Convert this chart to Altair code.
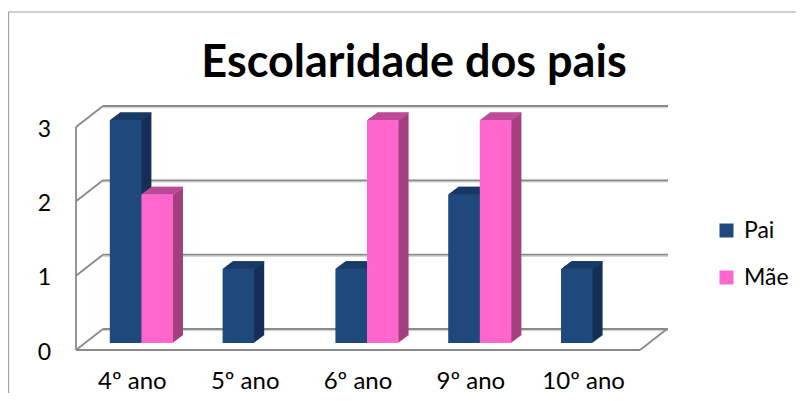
import altair as alt
import pandas as pd

# ---- data ----
categories = ["4º ano", "5º ano", "6º ano", "9º ano", "10º ano"]
series = ["Pai", "Mãe"]
pai = [3, 1, 1, 2, 1]
mae = [2, 0, 3, 3, 0]
y_ticks = [0, 1, 2, 3]
title_text = "Escolaridade dos pais"

# ---- styles ----
front_c = ["#1F497D", "#FF66CC"]
top_c = ["#1B3E6B", "#C44FA0"]
side_c = ["#152F55", "#A3407F"]
grid_c = "#8A8A8A"
FONT = "Lato"

rows = []
for c, p, m in zip(categories, pai, mae):
    rows.append({"cat": c, "serie": "Pai", "v": p})
    rows.append({"cat": c, "serie": "Mãe", "v": m})
df = pd.DataFrame(rows)
ticks_df = pd.DataFrame({"t": y_ticks})
cats_df = pd.DataFrame({"cat": categories})
title_df = pd.DataFrame({"t": [title_text]})

W, H = 564, 223
PAD_IN = 0.44
step = W / len(categories)
bw = step * (1 - PAD_IN)          # group width in px
half = bw / 2

x_scale = alt.Scale(domain=categories, paddingInner=PAD_IN, paddingOuter=PAD_IN / 2)
y_scale = alt.Scale(domain=[0, 3], nice=False, zero=True)

X = alt.X("cat:N", scale=x_scale, sort=categories, axis=None)
Y = alt.Y("v:Q", scale=y_scale, axis=None)

layers = []

# outer border
layers.append(alt.Chart(title_df).mark_rule(color="#A0A0A0", strokeWidth=1.2).encode(
    x=alt.value(-77), x2=alt.value(719), y=alt.value(-108)))
layers.append(alt.Chart(title_df).mark_rule(color="#A0A0A0", strokeWidth=1.2).encode(
    x=alt.value(-76.5), y=alt.value(-108), y2=alt.value(290)))

# back wall gridlines (shadow + line)
layers.append(alt.Chart(ticks_df).mark_rule(color="#D6D6D6", strokeWidth=1.5, yOffset=-12.5).encode(
    y=alt.Y("t:Q", scale=y_scale, axis=None), x=alt.value(18), x2=alt.value(583)))
layers.append(alt.Chart(ticks_df).mark_rule(color=grid_c, strokeWidth=1.8, yOffset=-14).encode(
    y=alt.Y("t:Q", scale=y_scale, axis=None), x=alt.value(18), x2=alt.value(583)))
# left wall diagonals
layers.append(alt.Chart(ticks_df).mark_rule(color=grid_c, strokeWidth=1.8, yOffset=7, y2Offset=-14).encode(
    y=alt.Y("t:Q", scale=y_scale, axis=None), y2=alt.Y2("t:Q"), x=alt.value(-9), x2=alt.value(18)))
# front vertical axis
layers.append(alt.Chart(ticks_df).mark_rule(color=grid_c, strokeWidth=1.8, yOffset=7, y2Offset=7).encode(
    y=alt.Y("min(t):Q", scale=y_scale, axis=None), y2=alt.Y2("max(t)"), x=alt.value(-9)))
# floor front edge and right edge
layers.append(alt.Chart(ticks_df).mark_rule(color=grid_c, strokeWidth=1.8, yOffset=7).encode(
    y=alt.Y("min(t):Q", scale=y_scale, axis=None), x=alt.value(-9), x2=alt.value(555)))
layers.append(alt.Chart(ticks_df).mark_rule(color=grid_c, strokeWidth=1.8, yOffset=7, y2Offset=-14).encode(
    y=alt.Y("min(t):Q", scale=y_scale, axis=None), y2=alt.Y2("min(t)"), x=alt.value(555), x2=alt.value(582)))

# bars, one series at a time: extrusion (side + top) then front face
N = 10
DX, DY = 10.0, -7.5
for i, s in enumerate(series):
    sdf = df[(df.serie == s) & (df.v > 0)]
    shift = -half / 2 if i == 0 else half / 2
    bar_w = alt.RelativeBandSize(0.5)
    for k in range(N, 0, -1):
        dx = DX * k / N
        dy = DY * k / N
        layers.append(alt.Chart(sdf).mark_bar(width=bar_w, xOffset=shift + dx, yOffset=dy, y2Offset=dy,
                                               color=side_c[i]).encode(x=X, y=Y))
        layers.append(alt.Chart(sdf).mark_bar(width=bar_w, xOffset=shift + dx, yOffset=dy, y2Offset=dy + 1.6,
                                               color=top_c[i]).encode(x=X, y=Y, y2=alt.Y2("v:Q")))

for i, s in enumerate(series):
    sdf = df[(df.serie == s) & (df.v > 0)]
    shift = -half / 2 if i == 0 else half / 2
    layers.append(alt.Chart(sdf).mark_bar(width=alt.RelativeBandSize(0.5), xOffset=shift).encode(
        x=X, y=Y,
        color=alt.Color("serie:N", sort=series,
                        scale=alt.Scale(domain=series, range=front_c),
                        legend=alt.Legend(title=None, orient="none", legendX=630, legendY=99,
                                          symbolType="square", symbolSize=196, symbolStrokeWidth=0,
                                          labelFontSize=23, labelFont=FONT, labelColor="#000000",
                                          rowPadding=23, labelOffset=6))))

# y tick labels
layers.append(alt.Chart(ticks_df).mark_text(align="right", baseline="alphabetic", fontSize=23, font=FONT,
                                             color="#000000", yOffset=16.5).encode(
    y=alt.Y("t:Q", scale=y_scale, axis=None), x=alt.value(-34), text="t:Q"))
# x category labels
layers.append(alt.Chart(cats_df).mark_text(align="center", baseline="alphabetic", fontSize=24, font=FONT,
                                            color="#000000", xOffset=-9).encode(
    x=alt.X("cat:N", scale=x_scale, sort=categories, axis=None), y=alt.value(269), text="cat:N"))
# title
layers.append(alt.Chart(title_df).mark_text(align="center", baseline="alphabetic", fontSize=45,
                                             fontWeight="bold", font=FONT, color="#000000").encode(
    x=alt.value(329), y=alt.value(-43), text="t:N"))

chart = alt.layer(*layers).properties(
    width=W, height=H,
    padding={"left": 77, "top": 112, "right": 147, "bottom": 50},
    autosize=alt.AutoSizeParams(type="none"),
    background="white",
).configure_view(stroke=None)

chart.save("out.html", embed_options={"renderer": "svg", "actions": False})
